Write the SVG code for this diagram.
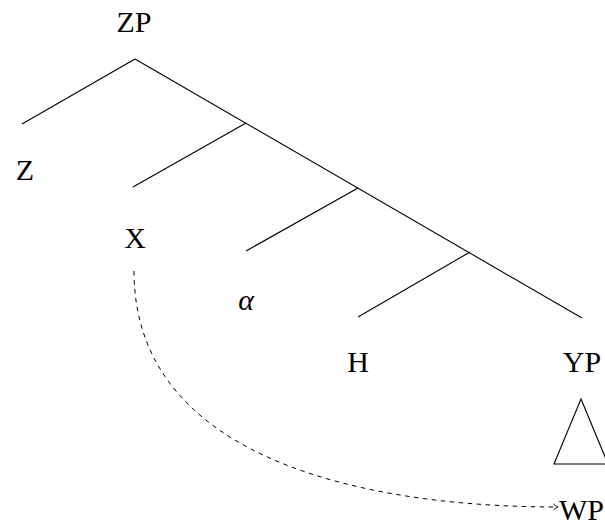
<svg xmlns="http://www.w3.org/2000/svg" width="605" height="525" viewBox="0 0 605 525">
<style>
text{font-family:'Liberation Serif','Times New Roman',serif;font-size:30px;fill:#000;text-anchor:middle}
.br{stroke:#000;stroke-width:1.1;fill:none}
.mv{stroke:#000;stroke-width:1;fill:none;stroke-dasharray:4.5 4.5}
</style>
<defs>
<marker id="tip" markerWidth="10" markerHeight="10" refX="6" refY="5" orient="auto" markerUnits="userSpaceOnUse">
<path d="M1.5,2 Q4,4.3 6,5 Q4,5.7 1.5,8" fill="none" stroke="#000" stroke-width="0.9"/>
</marker>
</defs>
<rect width="605" height="525" fill="#fff"/>
<g id="connectors">
<line class="br" x1="135" y1="59" x2="22" y2="124"/>
<line class="br" x1="135" y1="59" x2="582" y2="318"/>
<line class="br" x1="246" y1="123" x2="133" y2="187"/>
<line class="br" x1="358" y1="188" x2="246" y2="251"/>
<line class="br" x1="470" y1="252" x2="358" y2="317"/>
<path class="mv" d="M134,271 C134,461 368,507 558,507" marker-end="url(#tip)"/>
</g>
<g id="ZP"><text x="134" y="32">ZP</text></g>
<g id="Z"><text x="25" y="180">Z</text></g>
<g id="X"><text x="135" y="248">X</text></g>
<g id="alpha"><text x="246" y="310" font-style="italic">α</text></g>
<g id="H"><text x="358" y="372">H</text></g>
<g id="YP"><text x="582" y="372">YP</text>
<polygon class="br" points="581,399 554,464 608,464"/></g>
<g id="WP"><text x="559" y="520" style="text-anchor:start">WP</text></g>
</svg>
